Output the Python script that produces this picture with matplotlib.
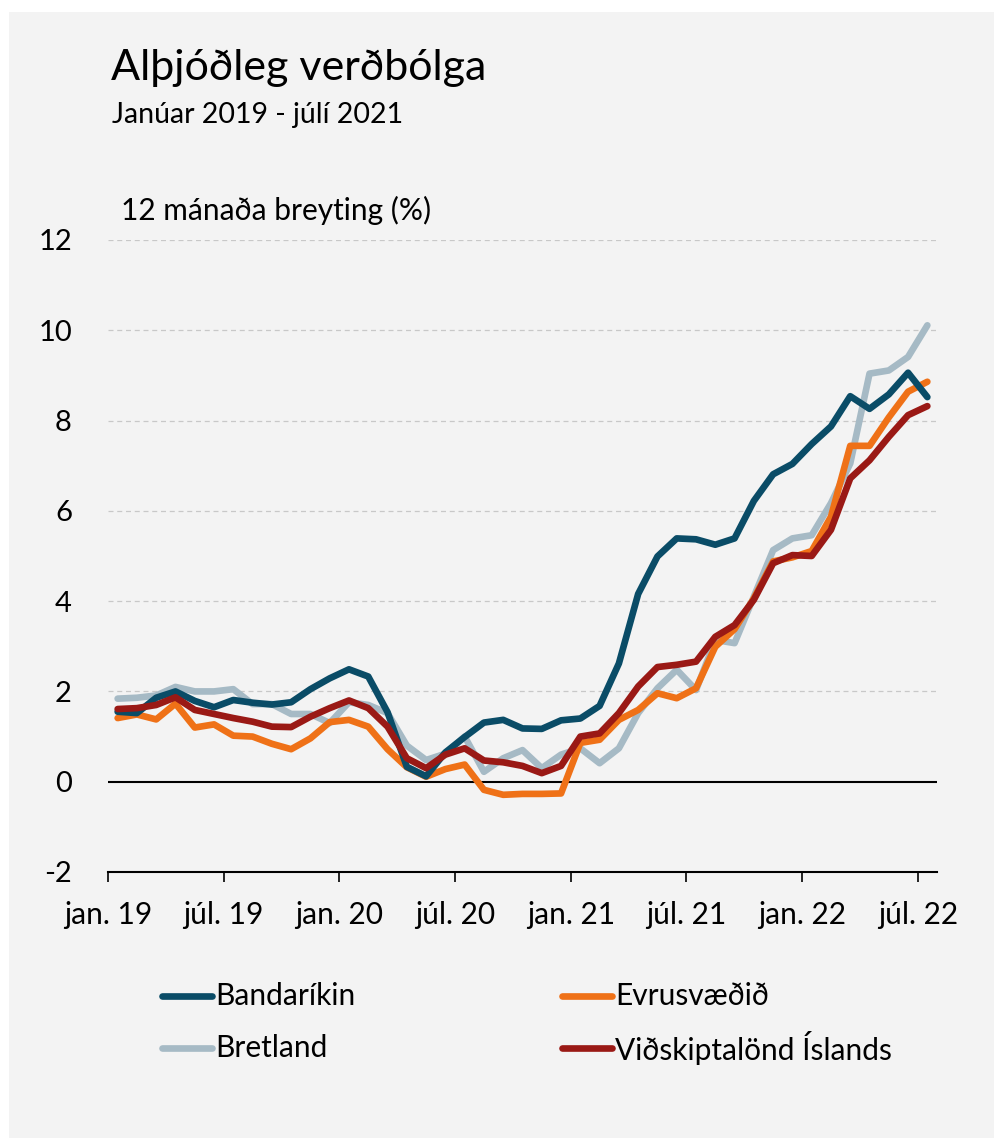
import matplotlib.pyplot as plt
from matplotlib.patches import Rectangle
from matplotlib.lines import Line2D

# 12 mánaða breyting (%), mánaðarleg gögn jan. 2019 - júl. 2022
bandarikin = [1.55, 1.52, 1.86, 2.00, 1.79, 1.65, 1.81, 1.75, 1.71, 1.76, 2.05, 2.29,
              2.49, 2.33, 1.54, 0.33, 0.12, 0.65, 0.99, 1.31, 1.37, 1.18, 1.17, 1.36,
              1.40, 1.68, 2.62, 4.16, 4.99, 5.39, 5.37, 5.25, 5.39, 6.22, 6.81, 7.04,
              7.48, 7.87, 8.54, 8.26, 8.58, 9.06, 8.52]
evrusvaedid = [1.41, 1.49, 1.38, 1.73, 1.20, 1.27, 1.02, 1.00, 0.84, 0.72, 0.96, 1.32,
               1.37, 1.22, 0.72, 0.32, 0.11, 0.28, 0.38, -0.18, -0.29, -0.27, -0.27, -0.26,
               0.86, 0.93, 1.37, 1.59, 1.96, 1.85, 2.07, 2.99, 3.38, 4.06, 4.88, 4.97,
               5.11, 5.87, 7.44, 7.44, 8.07, 8.64, 8.86]
bretland = [1.84, 1.86, 1.91, 2.10, 2.00, 2.00, 2.05, 1.72, 1.72, 1.50, 1.50, 1.30,
            1.76, 1.70, 1.52, 0.80, 0.48, 0.62, 1.00, 0.22, 0.52, 0.70, 0.30, 0.60,
            0.74, 0.41, 0.74, 1.52, 2.07, 2.48, 2.03, 3.14, 3.07, 4.10, 5.13, 5.39,
            5.46, 6.17, 7.05, 9.04, 9.11, 9.41, 10.11]
vidskiptalond = [1.61, 1.63, 1.70, 1.87, 1.59, 1.50, 1.41, 1.33, 1.22, 1.21, 1.44, 1.63,
                 1.80, 1.63, 1.22, 0.52, 0.30, 0.60, 0.74, 0.47, 0.43, 0.35, 0.19, 0.35,
                 1.00, 1.07, 1.52, 2.11, 2.54, 2.59, 2.66, 3.21, 3.47, 4.03, 4.84, 5.02,
                 5.00, 5.58, 6.72, 7.12, 7.64, 8.12, 8.32]
tick_labels = ['jan. 19', 'júl. 19', 'jan. 20', 'júl. 20', 'jan. 21', 'júl. 21', 'jan. 22', 'júl. 22']

plt.rcParams['font.family'] = ['Lato', 'DejaVu Sans']

c_us = '#0a4c67'
c_eu = '#ef7117'
c_uk = '#a6bac5'
c_is = '#9a1915'

W, H = 995, 1138
fig = plt.figure(figsize=(W / 100, H / 100), dpi=100, facecolor='white')
fig.patches.append(Rectangle((9 / W, 0), 1, 1 - 12 / H, transform=fig.transFigure,
                             facecolor='#f3f3f3', edgecolor='none', zorder=-10))

ax = fig.add_axes([108 / W, 1 - 872 / H, (937 - 108) / W, (872 - 240) / H])
ax.set_facecolor('none')

x = list(range(len(bandarikin)))
lw = 4.8
ax.plot(x, bretland, color=c_uk, lw=lw, solid_capstyle='round', zorder=3)
ax.plot(x, evrusvaedid, color=c_eu, lw=lw, solid_capstyle='round', zorder=4)
ax.plot(x, bandarikin, color=c_us, lw=lw, solid_capstyle='round', zorder=5)
ax.plot(x, vidskiptalond, color=c_is, lw=lw, solid_capstyle='round', zorder=6)

ax.set_xlim(-0.5, len(x) - 0.5)
ax.set_ylim(-2, 12)
ax.set_yticks(range(-2, 13, 2))
ax.set_yticklabels([str(v) for v in range(-2, 13, 2)], fontsize=21)
for v in range(2, 13, 2):
    ax.axhline(v, color='#c8c8c8', lw=0.9, ls=(0, (4, 3)), zorder=1)
ax.axhline(0, color='black', lw=1.5, zorder=2)

ax.set_xticks([i * 6 - 0.5 for i in range(len(tick_labels))])
ax.set_xticklabels(tick_labels, fontsize=21.5)
ax.tick_params(axis='x', direction='out', length=7, width=1.2, pad=14)
ax.tick_params(axis='y', length=0, pad=26)
for s in ['top', 'right', 'left']:
    ax.spines[s].set_visible(False)
ax.spines['bottom'].set_linewidth(1.5)

fig.text(111 / W, 1 - 68 / H, 'Alþjóðleg verðbólga', fontsize=31, va='center', ha='left')
fig.text(112 / W, 1 - 115 / H, 'Janúar 2019 - júlí 2021', fontsize=20.5, va='center', ha='left')
fig.text(121 / W, 1 - 210 / H, '12 mánaða breyting (%)', fontsize=21.5, va='center', ha='left')

# þjóðsaga (legend) í tveimur dálkum
labels = ['Bandaríkin', 'Bretland', 'Evrusvæðið', 'Viðskiptalönd Íslands']
colors = [c_us, c_uk, c_eu, c_is]
col_x = [162, 562]
row_y = [996, 1048]
for k, (lab, col) in enumerate(zip(labels, colors)):
    x0 = col_x[k // 2]
    y0 = 1 - row_y[k % 2] / H
    fig.add_artist(Line2D([x0 / W, (x0 + 50) / W], [y0, y0], color=col, lw=lw,
                          solid_capstyle='round', transform=fig.transFigure))
    fig.text((x0 + 53) / W, y0, lab, fontsize=21.5, va='center', ha='left')

plt.savefig('out.png', dpi=100, facecolor=fig.get_facecolor())
